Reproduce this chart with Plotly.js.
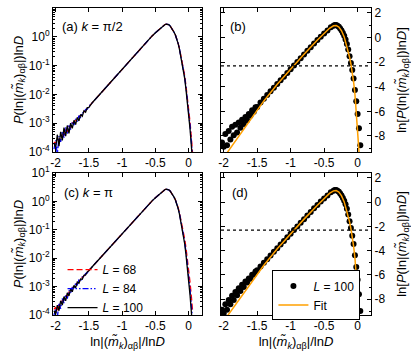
<!DOCTYPE html>
<html>
<head>
<meta charset="utf-8">
<script src="https://cdn.plot.ly/plotly-3.0.1.min.js"></script>
<style>
  html, body { margin: 0; padding: 0; background: #fff; }
  #chart { width: 411px; height: 354px; }
</style>
</head>
<body>
<div id="chart"></div>
<script>
// x grid of the histograms (ln|m|/lnD), split in three stretches
const xLeft = [-2.025, -2, -1.975, -1.95, -1.925, -1.9, -1.875, -1.85, -1.825, -1.8, -1.775,
  -1.75, -1.725, -1.7, -1.675, -1.65, -1.625, -1.6, -1.575, -1.55, -1.525, -1.5];
const xMid = [-1.45, -1.4, -1.35, -1.3, -1.25, -1.2, -1.15, -1.1, -1.05, -1, -0.95,
  -0.9, -0.85, -0.8, -0.75, -0.7, -0.65, -0.6, -0.55, -0.5, -0.45, -0.4];
const xRight = [-0.36, -0.34, -0.32, -0.3, -0.28, -0.26, -0.24, -0.22, -0.2, -0.18, -0.16,
  -0.14, -0.12, -0.1, -0.08, -0.06, -0.04, -0.02, 0, 0.02, 0.04, 0.06];

// panel (a), k = pi/2 : log10 of P
const aLeft100 = [-3.7, -3.85, -3.4, -3.8, -3.3, -3.6, -3.15, -3.45, -3.08, -3.35, -3.0,
  -3.18, -2.9, -3.05, -2.8, -2.92, -2.7, -2.76, -2.57, -2.62, -2.46, -2.45];
const aLeft84 = [-3.9, -3.6, -4.1, -3.45, -3.65, -3.28, -3.5, -3.15, -3.38, -3.08, -3.22,
  -2.95, -3.07, -2.85, -2.94, -2.74, -2.81, -2.62, -2.65, -2.52, -2.51, -2.41];
const aLeft68 = [-3.65, -3.72, -3.52, -3.62, -3.46, -3.4, -3.42, -3.2, -3.3, -3.1, -3.17,
  -2.98, -3.0, -2.87, -2.87, -2.76, -2.75, -2.64, -2.61, -2.53, -2.49, -2.42];
const aMid = [-2.29, -2.16, -2.03, -1.9, -1.77, -1.64, -1.51, -1.38, -1.25, -1.12, -0.99,
  -0.86, -0.73, -0.6, -0.47, -0.34, -0.21, -0.09, 0.03, 0.14, 0.25, 0.36];
const aRight100 = [0.42, 0.44, 0.44, 0.42, 0.38, 0.32, 0.25, 0.16, 0.06, -0.07, -0.23,
  -0.42, -0.66, -0.9, -1.15, -1.45, -1.85, -2.25, -2.7, -3.2, -3.8, -4.4];
const aRight84 = [0.42, 0.44, 0.44, 0.42, 0.38, 0.32, 0.25, 0.16, 0.06, -0.07, -0.22,
  -0.41, -0.64, -0.87, -1.12, -1.4, -1.78, -2.17, -2.6, -3.08, -3.65, -4.25];
const aRight68 = [0.42, 0.44, 0.44, 0.42, 0.38, 0.32, 0.25, 0.16, 0.06, -0.06, -0.21,
  -0.39, -0.61, -0.84, -1.08, -1.35, -1.72, -2.1, -2.5, -2.96, -3.5, -4.1];

// panel (c), k = pi : log10 of P
const cLeft100 = [-3.85, -3.98, -3.65, -3.85, -3.5, -3.65, -3.35, -3.5, -3.22, -3.33, -3.08,
  -3.18, -2.96, -3.04, -2.84, -2.88, -2.73, -2.74, -2.6, -2.59, -2.48, -2.44];
const cLeft84 = [-4.0, -3.8, -4.1, -3.58, -3.78, -3.42, -3.58, -3.28, -3.42, -3.13, -3.22,
  -3.03, -3.07, -2.89, -2.94, -2.77, -2.81, -2.66, -2.67, -2.54, -2.52, -2.42];
const cLeft68 = [-3.8, -3.72, -3.88, -3.62, -3.62, -3.48, -3.47, -3.33, -3.32, -3.19, -3.21,
  -3.04, -3.01, -2.91, -2.89, -2.79, -2.77, -2.67, -2.63, -2.55, -2.51, -2.43];
const cMid = [-2.3, -2.17, -2.04, -1.91, -1.78, -1.65, -1.52, -1.39, -1.26, -1.13, -1.0,
  -0.87, -0.74, -0.61, -0.48, -0.35, -0.22, -0.1, 0.02, 0.13, 0.24, 0.35];
const cRight100 = [0.41, 0.43, 0.43, 0.41, 0.37, 0.31, 0.24, 0.15, 0.05, -0.08, -0.24,
  -0.44, -0.68, -0.93, -1.2, -1.5, -1.9, -2.32, -2.78, -3.3, -3.9, -4.5];
const cRight84 = [0.41, 0.43, 0.43, 0.41, 0.37, 0.31, 0.24, 0.15, 0.05, -0.07, -0.23,
  -0.42, -0.65, -0.89, -1.15, -1.44, -1.8, -2.2, -2.62, -3.1, -3.65, -4.25];
const cRight68 = [0.41, 0.43, 0.43, 0.41, 0.37, 0.31, 0.24, 0.15, 0.06, -0.06, -0.21,
  -0.39, -0.6, -0.83, -1.07, -1.33, -1.65, -2.0, -2.4, -2.85, -3.35, -3.9];

// fits shown in (b) and (d), ln P
const fitX = [-1.96, -1.8, -1.6, -1.4, -1.2, -1.0, -0.8, -0.6, -0.5, -0.42, -0.36, -0.32, -0.28,
  -0.24, -0.2, -0.16, -0.12, -0.1, -0.08, -0.06, -0.04, -0.02, 0, 0.015, 0.025];
const fitB = [-9.45, -8.2, -6.65, -5.15, -3.8, -2.55, -1.35, -0.2, 0.35, 0.75, 0.95, 0.98, 0.85,
  0.55, 0.05, -0.7, -1.6, -2.15, -2.8, -3.6, -4.6, -5.9, -7.4, -8.7, -9.6];
const fitD = [-9.5, -8.25, -6.7, -5.2, -3.85, -2.6, -1.4, -0.25, 0.3, 0.72, 0.93, 0.96, 0.83,
  0.52, 0.02, -0.72, -1.62, -2.18, -2.83, -3.62, -4.6, -5.85, -7.3, -8.6, -9.5];
const cutLevel = -2.3;

// ticks
const xTickVals = [-2, -1.5, -1, -0.5, 0];
const xTickText = ['-2', '-1.5', '-1', '-0.5', '0'];
const logTickVals = [1e-4, 1e-3, 1e-2, 1e-1, 1, 10];
const logTickText = ['10<sup>-4</sup>', '10<sup>-3</sup>', '10<sup>-2</sup>', '10<sup>-1</sup>', '10<sup>0</sup>', '10<sup>1</sup>'];
const lnTickVals = [-8, -6, -4, -2, 0, 2];
const lnTickText = ['-8', '-6', '-4', '-2', '0', '2'];

const xAll = xLeft.concat(xMid, xRight);
const toP = arr => arr.map(v => Math.pow(10, v));
const toLn = arr => arr.map(v => v * Math.LN10);

const a100 = aLeft100.concat(aMid, aRight100);
const a84 = aLeft84.concat(aMid, aRight84);
const a68 = aLeft68.concat(aMid, aRight68);
const c100 = cLeft100.concat(cMid, cRight100);
const c84 = cLeft84.concat(cMid, cRight84);
const c68 = cLeft68.concat(cMid, cRight68);

const minorLog = [];
for (let d = -4; d < 1; d++) {
  for (let m = 2; m < 10; m++) minorLog.push(m * Math.pow(10, d));
}

const red = { color: '#ff0000', width: 1.3, dash: '6px,3px' };
const blue = { color: '#0000ff', width: 1.3, dash: '6px,2px,1.5px,2px,1.5px,2px' };
const black = { color: '#000000', width: 1.3 };
const orange = '#ffa000';

const traces = [
  { x: xAll, y: toP(a68), xaxis: 'x', yaxis: 'y', mode: 'lines', line: red, showlegend: false },
  { x: xAll, y: toP(a84), xaxis: 'x', yaxis: 'y', mode: 'lines', line: blue, showlegend: false },
  { x: xAll, y: toP(a100), xaxis: 'x', yaxis: 'y', mode: 'lines', line: black, showlegend: false },

  { x: xAll, y: toLn(a100), xaxis: 'x2', yaxis: 'y2', mode: 'markers',
    marker: { color: 'black', size: 6 }, showlegend: false },
  { x: fitX, y: fitB, xaxis: 'x2', yaxis: 'y2', mode: 'lines', line: { color: orange, width: 1.5 }, showlegend: false },

  { x: xAll, y: toP(c68), xaxis: 'x3', yaxis: 'y3', mode: 'lines', line: red, name: '<i>L</i> = 68', legend: 'legend' },
  { x: xAll, y: toP(c84), xaxis: 'x3', yaxis: 'y3', mode: 'lines', line: blue, name: '<i>L</i> = 84', legend: 'legend' },
  { x: xAll, y: toP(c100), xaxis: 'x3', yaxis: 'y3', mode: 'lines', line: black, name: '<i>L</i> = 100', legend: 'legend' },

  { x: xAll, y: toLn(c100), xaxis: 'x4', yaxis: 'y4', mode: 'markers',
    marker: { color: 'black', size: 6 }, name: '<i>L</i> = 100', legend: 'legend2' },
  { x: fitX, y: fitD, xaxis: 'x4', yaxis: 'y4', mode: 'lines', line: { color: orange, width: 1.5 },
    name: 'Fit', legend: 'legend2' }
];

const tickFont = { family: 'Liberation Sans, Arial, sans-serif', size: 12, color: 'black' };
const titleFont = { family: 'Liberation Sans, Arial, sans-serif', size: 13, color: 'black' };
const pTitle = '<i>P</i>(ln|(<i>m̃</i><sub><i>k</i></sub>)<sub>αβ</sub>|)ln<i>D</i>';
const lnTitle = 'ln[<i>P</i>(ln|(<i>m̃</i><sub><i>k</i></sub>)<sub>αβ</sub>|)ln<i>D</i>]';
const xTitle = 'ln|(<i>m̃</i><sub><i>k</i></sub>)<sub>αβ</sub>|/ln<i>D</i>';

function xAxis(domain, anchor, withTitle) {
  return {
    domain: domain, anchor: anchor, range: [-2.04, 0.2],
    tickvals: xTickVals, ticktext: xTickText, tickfont: tickFont,
    ticks: 'inside', ticklen: 4, tickcolor: 'black',
    showline: true, linecolor: 'black', linewidth: 1, mirror: 'allticks',
    showgrid: false, zeroline: false,
    title: withTitle ? { text: xTitle, font: titleFont, standoff: 4 } : { text: '' }
  };
}
function logAxis(domain, anchor) {
  return {
    domain: domain, anchor: anchor, type: 'log', range: [-4, 1],
    tickvals: logTickVals, ticktext: logTickText, tickfont: tickFont,
    ticks: 'inside', ticklen: 4, tickcolor: 'black',
    minor: { tickvals: minorLog, ticks: 'inside', ticklen: 2, tickcolor: 'black' },
    showline: true, linecolor: 'black', linewidth: 1, mirror: 'allticks',
    showgrid: false, zeroline: false,
    title: { text: pTitle, font: titleFont, standoff: 2 }
  };
}
function lnAxis(domain, anchor) {
  return {
    domain: domain, anchor: anchor, side: 'right', range: [-9.3, 2.4],
    tickvals: lnTickVals, ticktext: lnTickText, tickfont: tickFont,
    ticks: 'inside', ticklen: 4, tickcolor: 'black',
    minor: { dtick: 1, ticks: 'inside', ticklen: 2, tickcolor: 'black' },
    showline: true, linecolor: 'black', linewidth: 1, mirror: 'allticks',
    showgrid: false, zeroline: false,
    title: { text: lnTitle, font: titleFont, standoff: 12 }
  };
}

const yTop = [0.531, 1];
const yBot = [0, 0.4625];
const xL = [0, 0.4686];
const xR = [0.5283, 1];

const dotted = (xr, yr) => ({
  type: 'line', xref: xr + ' domain', x0: 0, x1: 1, yref: yr, y0: cutLevel, y1: cutLevel,
  line: { color: 'black', width: 1.2, dash: 'dot' }
});
const label = (xr, yr, x, y, text) => ({
  xref: xr + ' domain', yref: yr + ' domain', x: x, y: y, xanchor: 'left', yanchor: 'middle',
  text: text, showarrow: false, font: titleFont
});

const layout = {
  width: 411, height: 354,
  margin: { l: 53, r: 40, t: 8, b: 39 },
  paper_bgcolor: 'white', plot_bgcolor: 'white',
  font: tickFont,
  xaxis: xAxis(xL, 'y', false),
  yaxis: logAxis(yTop, 'x'),
  xaxis2: xAxis(xR, 'y2', false),
  yaxis2: lnAxis(yTop, 'x2'),
  xaxis3: xAxis(xL, 'y3', true),
  yaxis3: logAxis(yBot, 'x3'),
  xaxis4: xAxis(xR, 'y4', true),
  yaxis4: lnAxis(yBot, 'x4'),
  shapes: [dotted('x2', 'y2'), dotted('x4', 'y4')],
  annotations: [
    label('x', 'y', 0.05, 0.87, '(a) <i>k</i> = π/2'),
    label('x2', 'y2', 0.05, 0.87, '(b)'),
    label('x3', 'y3', 0.06, 0.86, '(c) <i>k</i> = π'),
    label('x4', 'y4', 0.06, 0.86, '(d)')
  ],
  legend: {
    x: 0.03, y: 0.195, xanchor: 'left', yanchor: 'top',
    bgcolor: 'rgba(0,0,0,0)', borderwidth: 0, font: tickFont, itemwidth: 30
  },
  legend2: {
    x: 0.69, y: 0.145, xanchor: 'left', yanchor: 'top',
    bgcolor: 'white', bordercolor: 'black', borderwidth: 1, font: tickFont, itemwidth: 30
  }
};

Plotly.newPlot('chart', traces, layout, { staticPlot: true, displayModeBar: false });
</script>
</body>
</html>
